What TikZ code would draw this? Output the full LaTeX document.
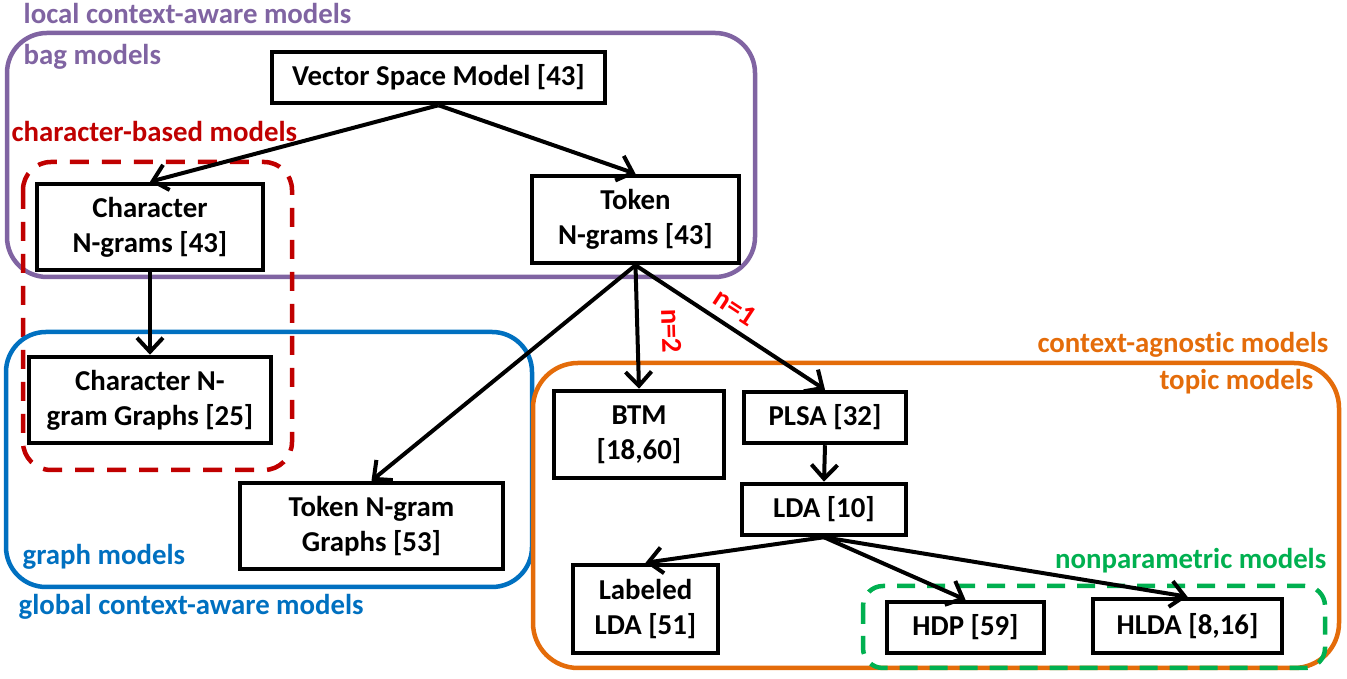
\documentclass[tikz,border=0pt]{standalone}
\usepackage{fontspec}
\setmainfont{Carlito}[Ligatures=NoCommon]
\usetikzlibrary{arrows.meta}
\definecolor{bagpurple}{HTML}{8064A2}
\definecolor{charred}{HTML}{C00000}
\definecolor{graphblue}{HTML}{0070C0}
\definecolor{topicorange}{HTML}{E46C0A}
\definecolor{npgreen}{HTML}{00B050}
\definecolor{nred}{HTML}{FF0000}
\tikzset{every node/.style={ % Same font everywhere
font=\fontsize{8.2pt}{10pt}\selectfont\bfseries},
model/.style={ % Boxes for the single models
draw,
fill=white,
line width=0.45mm,
align=center,
inner sep=0pt},
frame/.style={ % Rounded outlines of the model families
line width=0.45mm,
rounded corners=4mm},
grouplabel/.style={inner sep=0pt},
nlabel/.style={text=nred, inner sep=1pt},
every edge/.style={ % Sets the properties for each arrow
draw,
-{Straight Barb[length=1.4mm,width=2.6mm]},
line width=0.4mm}}

\begin{document}
\begin{tikzpicture}[x=0.1mm, y=-0.1mm]
\useasboundingbox (0,0) rectangle (1347,679);
% families
\draw[frame, bagpurple] (7,33) rectangle (755,277);
\draw[frame, charred, dash pattern=on 1.9mm off 1.3mm, rounded corners=2.8mm] (23,162) rectangle (292,470);
\draw[frame, graphblue] (6,332) rectangle (532,587);
\draw[frame, topicorange, rounded corners=4.5mm] (533,363) rectangle (1339,668);
\draw[frame, npgreen, dash pattern=on 1.8mm off 1.2mm, rounded corners=2mm] (863,586) rectangle (1325,668);
\node[grouplabel, anchor=base west, text=bagpurple] (local) at (23,24) {local context-aware models};
\node[grouplabel, anchor=base west, text=bagpurple] (bag) at (23,65) {bag models};
\node[grouplabel, anchor=base west, text=charred] (charbased) at (11,142) {character-based models};
\node[grouplabel, anchor=base west, text=graphblue] (graphm) at (22,565) {graph models};
\node[grouplabel, anchor=base west, text=graphblue] (global) at (18,615) {global context-aware models};
\node[grouplabel, anchor=base east, text=topicorange] (agnostic) at (1329,353) {context-agnostic models};
\node[grouplabel, anchor=base east, text=topicorange] (topic) at (1314,390) {topic models};
\node[grouplabel, anchor=base east, text=npgreen] (nonpar) at (1327,569) {nonparametric models};
% models
\node[model, minimum width=33.3mm, minimum height=5.1mm] (vsm) at (438.5,77.5) {Vector Space Model [43]};
\node[model, minimum width=22.6mm, minimum height=8.6mm] (cng) at (150,227) {Character\\N-grams [43]};
\node[model, minimum width=20.7mm, minimum height=8.7mm] (tng) at (635.5,219.5) {Token\\N-grams [43]};
\node[model, minimum width=24.2mm, minimum height=8.6mm] (cgg) at (150,400) {Character N-\\gram Graphs [25]};
\node[model, minimum width=26.3mm, minimum height=8.6mm] (tgg) at (371.5,526) {Token N-gram\\Graphs [53]};
\node[model, minimum width=17mm, minimum height=8.7mm] (btm) at (639,434.5) {BTM\\{[18,60]}};
\node[model, minimum width=16.2mm, minimum height=5.1mm] (plsa) at (825,417.5) {PLSA [32]};
\node[model, minimum width=16.4mm, minimum height=5.1mm] (lda) at (824,509.5) {LDA [10]};
\node[model, minimum width=14.5mm, minimum height=8.8mm] (llda) at (645.5,609) {Labeled\\LDA [51]};
\node[model, minimum width=15.7mm, minimum height=5.1mm] (hdp) at (965.5,627.5) {HDP [59]};
\node[model, minimum width=18.9mm, minimum height=5.4mm] (hlda) at (1187.5,626) {HLDA [8,16]};
% arrows
\draw (vsm.south) edge (cng.north)
edge (tng.north)
(cng.south) edge (cgg.north)
(tng.south) edge (tgg.north)
edge node[pos=0.54, sloped, above=1.95mm, nlabel] {n=2} (btm.north)
edge node[pos=0.47, sloped, above=0.5mm, nlabel] {n=1} (plsa.north)
(plsa.south) edge (lda.north)
(lda.south) edge (llda.north)
edge (hdp.north)
edge (hlda.north);
\end{tikzpicture}
\end{document}
